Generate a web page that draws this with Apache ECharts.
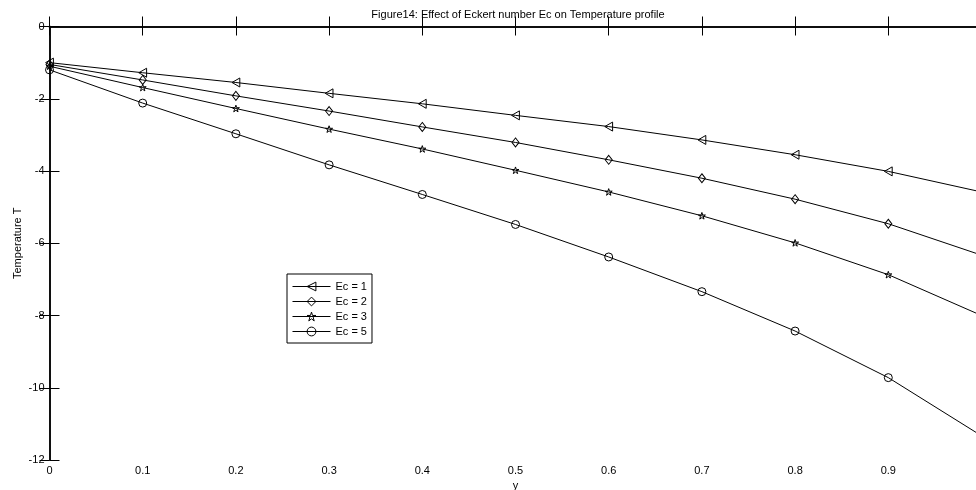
<!DOCTYPE html>
<html>
<head>
<meta charset="utf-8">
<script src="https://cdn.jsdelivr.net/npm/echarts@6/dist/echarts.min.js"></script>
<style>
html,body{margin:0;padding:0;background:#fff;}
#chart{width:976px;height:490px;}
</style>
</head>
<body>
<div id="chart"></div>
<script>
var xValues = [0, 0.1, 0.2, 0.3, 0.4, 0.5, 0.6, 0.7, 0.8, 0.9, 1.0];
var ec1 = [-1.0, -1.28, -1.55, -1.85, -2.14, -2.46, -2.77, -3.14, -3.55, -4.01, -4.58];
var ec2 = [-1.05, -1.48, -1.92, -2.34, -2.78, -3.21, -3.69, -4.20, -4.78, -5.46, -6.33];
var ec3 = [-1.1, -1.69, -2.27, -2.84, -3.39, -3.98, -4.58, -5.24, -5.99, -6.87, -8.0];
var ec5 = [-1.2, -2.12, -2.97, -3.83, -4.65, -5.48, -6.38, -7.34, -8.43, -9.72, -11.33];
var seriesNames = ['Ec = 1', 'Ec = 2', 'Ec = 3', 'Ec = 5'];
var titleText = 'Figure14: Effect of Eckert number Ec on Temperature profile';
var xName = 'y';
var yName = 'Temperature T';

var FONT = "'Liberation Sans', Arial, sans-serif";
var triLeft = 'path://M0,50 L86.6,0 L86.6,100 Z';
var star = 'path://M50,0 L61.2,34.5 L97.6,34.5 L68.2,55.9 L79.4,90.5 L50,69.1 L20.6,90.5 L31.8,55.9 L2.4,34.5 L38.8,34.5 Z';

function pairs(ys) { return xValues.map(function (x, i) { return [x, ys[i]]; }); }
function mk(name, ys, symbol, size) {
  return {
    name: name, type: 'line', data: pairs(ys),
    symbol: symbol, symbolSize: size, symbolKeepAspect: true,
    showAllSymbol: true, animation: false, silent: true,
    lineStyle: { color: '#000', width: 1 },
    itemStyle: { color: 'rgba(255,255,255,0)', borderColor: '#000', borderWidth: 1 }
  };
}

var chart = echarts.init(document.getElementById('chart'));
var axisLine = { show: true, lineStyle: { color: '#000', width: 1.5 } };
chart.setOption({
  animation: false,
  backgroundColor: '#fff',
  textStyle: { fontFamily: FONT },
  title: {
    text: titleText, left: 513, top: 4, textAlign: 'center',
    textStyle: { fontSize: 11, fontWeight: 'normal', color: '#000', fontFamily: FONT }
  },
  grid: { left: 49.5, top: 26.5, width: 932, height: 433.5, containLabel: false, outerBoundsMode: 'none' },
  legend: {
    left: 287, top: 274, orient: 'vertical',
    data: seriesNames,
    itemWidth: 38, itemHeight: 11, itemGap: 4,
    padding: [7, 5, 6, 5],
    borderColor: '#000', borderWidth: 1, backgroundColor: '#fff',
    textStyle: { fontSize: 11, color: '#000', fontFamily: FONT },
    itemStyle: { color: 'rgba(255,255,255,0)', borderColor: '#000', borderWidth: 1 },
    lineStyle: { color: '#000', width: 1 },
    inactiveColor: '#000'
  },
  xAxis: [{
    type: 'value', min: 0, max: 1, interval: 0.1, position: 'bottom',
    name: xName, nameLocation: 'middle', nameGap: 20, nameMoveOverlap: false,
    nameTextStyle: { fontSize: 11, color: '#000', fontFamily: FONT },
    axisLine: axisLine,
    axisTick: { show: true, inside: true, length: 10, lineStyle: { color: '#000' } },
    axisLabel: { fontSize: 11, color: '#000', margin: 5, fontFamily: FONT },
    splitLine: { show: false }
  }, {
    type: 'value', min: 0, max: 1, interval: 0.1, position: 'top',
    axisLine: axisLine,
    axisTick: { show: true, inside: true, length: 9, lineStyle: { color: '#000' } },
    axisLabel: { show: false },
    splitLine: { show: false }
  }],
  yAxis: [{
    type: 'value', min: -12, max: 0, interval: 2, position: 'left',
    name: yName, nameLocation: 'middle', nameGap: 26, nameMoveOverlap: false,
    nameTextStyle: { fontSize: 11, color: '#000', fontFamily: FONT },
    axisLine: axisLine,
    axisTick: { show: true, inside: true, length: 10, lineStyle: { color: '#000' } },
    axisLabel: { fontSize: 11, color: '#000', margin: 5, fontFamily: FONT },
    splitLine: { show: false }
  }, {
    type: 'value', min: -12, max: 0, interval: 2, position: 'right',
    axisLine: axisLine,
    axisTick: { show: true, inside: true, length: 10, lineStyle: { color: '#000' } },
    axisLabel: { show: false },
    splitLine: { show: false }
  }],
  series: [
    mk(seriesNames[0], ec1, triLeft, 9),
    mk(seriesNames[1], ec2, 'diamond', [7, 9]),
    mk(seriesNames[2], ec3, star, 7),
    mk(seriesNames[3], ec5, 'circle', 8)
  ]
});
</script>
</body>
</html>
